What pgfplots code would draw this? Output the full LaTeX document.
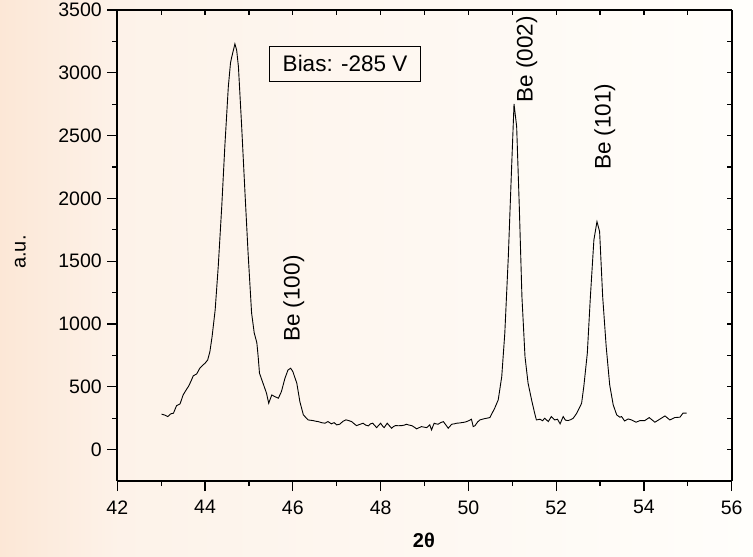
\documentclass[border=0pt]{standalone}
\usepackage{fontspec}
\setmainfont{Liberation Sans}
\usepackage{pgfplots}
\pgfplotsset{compat=1.18}
\pgfdeclarehorizontalshading{bgshade}{100bp}{rgb(0bp)=(0.988,0.906,0.840); rgb(25bp)=(0.988,0.906,0.840); rgb(33bp)=(0.992,0.950,0.914); rgb(75bp)=(1,0.996,0.984); rgb(100bp)=(1,0.996,0.984)}
\pgfplotstableread{
x y
43.01 282
43.08 275
43.15 263
43.22 285
43.28 290
43.35 350
43.43 364
43.50 435
43.56 470
43.62 502
43.68 545
43.73 587
43.81 603
43.88 648
43.94 670
44.00 688
44.06 714
44.11 780
44.16 900
44.23 1112
44.30 1457
44.38 1935
44.45 2412
44.53 2890
44.58 3080
44.61 3129
44.68 3230
44.72 3180
44.76 3049
44.83 2599
44.91 2041
44.98 1566
45.06 1088
45.12 929
45.18 850
45.21 740
45.24 608
45.32 529
45.40 449
45.45 369
45.52 435
45.59 422
45.67 409
45.74 462
45.82 568
45.89 634
45.95 648
46.00 621
46.09 529
46.16 382
46.24 276
46.35 236
46.46 231
46.52 226
46.58 223
46.65 215
46.73 210
46.80 223
46.88 205
46.94 215
47.00 197
47.07 202
47.14 225
47.21 237
47.28 230
47.34 223
47.40 205
47.45 191
47.52 200
47.60 210
47.66 195
47.72 189
47.77 205
47.82 210
47.87 190
47.91 175
47.96 195
48.00 210
48.04 190
48.08 175
48.12 195
48.15 210
48.20 190
48.25 170
48.30 185
48.34 191
48.41 190
48.48 191
48.54 195
48.59 202
48.65 195
48.71 191
48.77 178
48.82 165
48.88 175
48.93 183
49.00 178
49.05 175
49.12 197
49.16 157
49.22 210
49.26 205
49.31 202
49.37 215
49.43 223
49.49 195
49.54 170
49.62 202
49.68 205
49.73 210
49.80 212
49.85 215
49.91 218
49.96 223
50.02 232
50.07 242
50.11 183
50.15 190
50.21 220
50.26 236
50.35 245
50.49 255
50.60 330
50.68 396
50.76 581
50.83 927
50.91 1537
50.98 2201
51.04 2752
51.10 2572
51.16 1935
51.22 1218
51.29 740
51.36 529
51.44 396
51.51 290
51.55 236
51.63 242
51.69 230
51.74 250
51.82 223
51.89 263
51.97 236
52.03 242
52.09 205
52.16 263
52.21 235
52.27 231
52.33 238
52.39 250
52.47 290
52.58 369
52.63 502
52.71 767
52.78 1218
52.86 1670
52.93 1815
52.99 1736
53.06 1218
53.14 820
53.22 515
53.30 356
53.34 316
53.38 276
53.45 258
53.49 263
53.56 228
53.64 244
53.72 236
53.82 218
53.91 231
54.02 231
54.12 255
54.25 218
54.36 242
54.48 268
54.59 236
54.70 255
54.82 258
54.89 290
54.97 290
}\xrd
\begin{document}
\begin{tikzpicture}[x=1pt,y=1pt]
\shade[shading=bgshade] (-117.3,-76) rectangle (635.7,481);
\pgfplotsset{
  common/.style={
    at={(0,0)}, anchor=south west, scale only axis,
    width=614.4pt, height=471pt,
    xmin=42, xmax=56, ymin=-250, ymax=3500,
    xtick={42,44,...,56}, minor x tick num=1,
    ytick={0,500,...,3500}, minor y tick num=1,
    axis line style={-, line width=1.6pt, black},
    tick style={line width=1.2pt, black},
    /pgf/number format/assume math mode=true,
    /pgf/number format/1000 sep={},
    tick label style={font=\fontsize{19.5}{22}\selectfont},
  }
}
\begin{axis}[common,
  axis x line*=top, axis y line*=right,
  tick align=inside, major tick length=5pt, minor tick length=5pt,
  xticklabels={}, yticklabels={}]
\end{axis}
\begin{axis}[common,
  axis x line*=bottom, axis y line*=left,
  tick align=outside, major tick length=10pt, minor tick length=5pt,
  clip=false,
  xticklabel style={yshift=-6pt},
  yticklabel style={xshift=-2pt},
  xlabel={\textbf{2θ}}, ylabel={a.u.},
  label style={font=\fontsize{20}{23}\selectfont},
  xlabel style={at={(axis description cs:0.499,-0.125)}, anchor=center},
  ylabel style={at={(axis description cs:-0.158,0.486)}, anchor=center},
]
\addplot[black, line width=0.9pt, sharp plot, mark=none] table[x=x,y=y] {\xrd};
\node[draw, line width=0.8pt, inner xsep=11pt, minimum height=35pt, minimum width=151pt, font=\fontsize{22.5}{25}\selectfont] at (axis cs:47.19,3071) {Bias: -285 V};
\node[rotate=90, anchor=west, inner sep=0pt, font=\fontsize{22.5}{25}\selectfont] at (axis cs:46.02,857) {Be (100)};
\node[rotate=90, anchor=west, inner sep=0pt, font=\fontsize{22.5}{25}\selectfont] at (axis cs:51.33,2760) {Be (002)};
\node[rotate=90, anchor=west, inner sep=0pt, font=\fontsize{22.5}{25}\selectfont] at (axis cs:53.11,2225) {Be (101)};
\end{axis}
\pgfresetboundingbox
\path[use as bounding box] (-117.3,-76) rectangle (635.7,481);
\end{tikzpicture}
\end{document}
